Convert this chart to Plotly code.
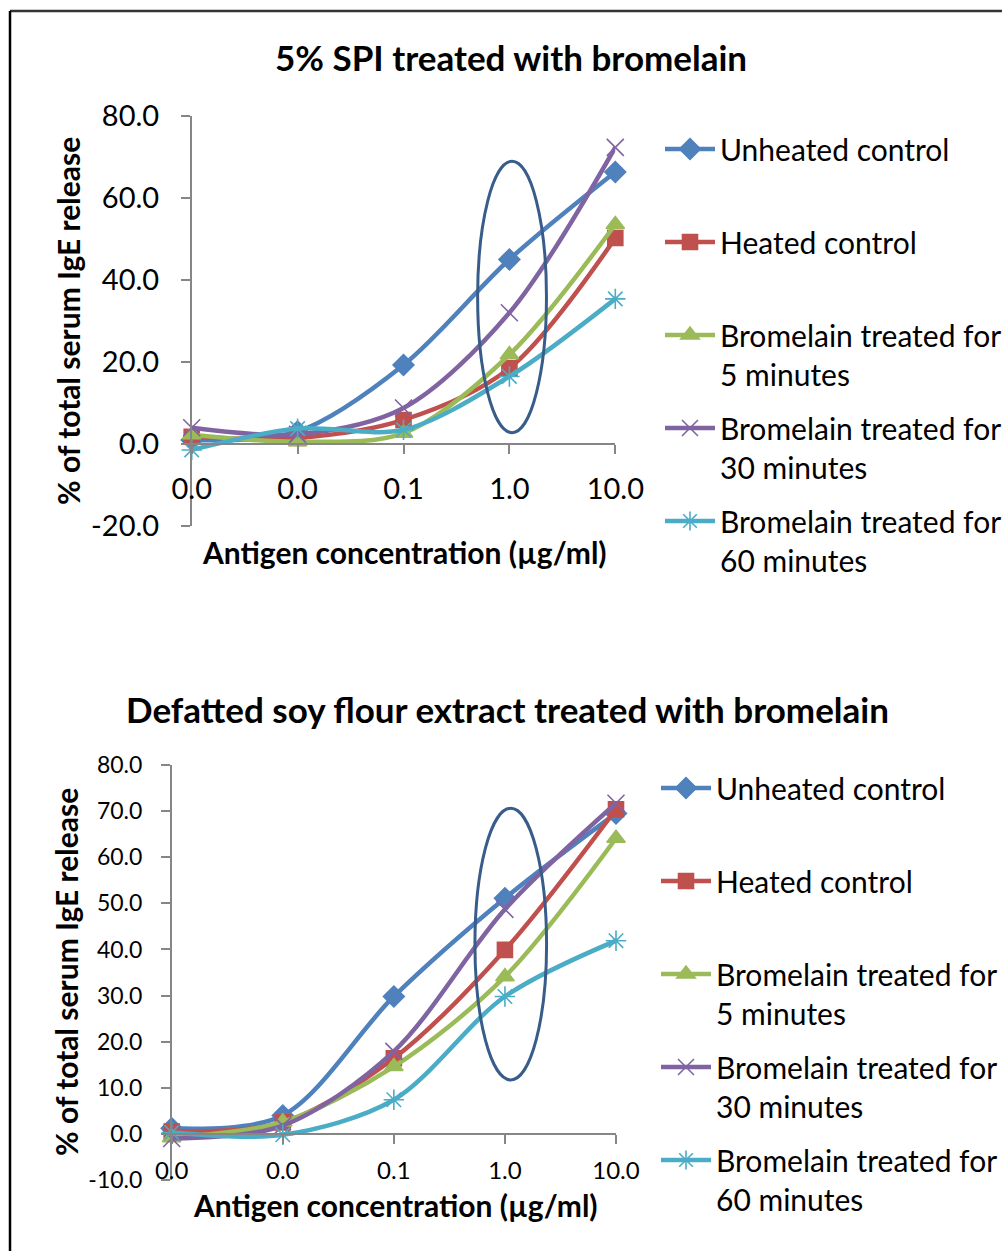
import plotly.graph_objects as go

# Antigen concentration categories (µg/ml, log-spaced) and their printed labels
concentration_pos = [0, 1, 2, 3, 4]
concentration_labels = ["0.0", "0.0", "0.1", "1.0", "10.0"]

# Value-axis ticks for each panel
spi_yticks = [-20, 0, 20, 40, 60, 80]
dsf_yticks = [-10, 0, 10, 20, 30, 40, 50, 60, 70, 80]

series_names = [
    "Unheated control",
    "Heated control",
    "Bromelain treated for<br>5 minutes",
    "Bromelain treated for<br>30 minutes",
    "Bromelain treated for<br>60 minutes",
]

# % of total serum IgE release — 5% SPI
spi_unheated = [1.0, 3.1, 19.3, 45.0, 66.3]
spi_heated = [1.8, 1.5, 5.9, 18.5, 50.2]
spi_brom5 = [2.3, 0.6, 2.7, 21.8, 53.5]
spi_brom30 = [4.0, 2.4, 8.8, 32.0, 72.3]
spi_brom60 = [-1.4, 3.8, 3.5, 16.5, 35.4]

# % of total serum IgE release — defatted soy flour extract
dsf_unheated = [1.2, 4.0, 29.8, 51.1, 69.5]
dsf_heated = [0.5, 2.5, 16.4, 39.9, 70.4]
dsf_brom5 = [-0.8, 2.6, 14.6, 34.1, 64.1]
dsf_brom30 = [-1.0, 1.8, 17.9, 48.7, 71.7]
dsf_brom60 = [0.3, -0.2, 7.4, 29.8, 41.9]

colors = ["#4F81BD", "#C0504D", "#9BBB59", "#8064A2", "#4BACC6"]
symbols = ["diamond", "square", "triangle-up", "x-thin-open", "asterisk-open"]
sizes = [16, 15, 16, 17, 17]

FONT = "Lato"
W, H = 1002, 1251


def py(pix):
    """Convert a pixel row (from top) to paper y."""
    return 1 - pix / H


def px(pix):
    return pix / W


fig = go.Figure()

panels = [
    dict(data=[spi_unheated, spi_heated, spi_brom5, spi_brom30, spi_brom60],
         xa="x", ya="y", legend="legend", grp="a"),
    dict(data=[dsf_unheated, dsf_heated, dsf_brom5, dsf_brom30, dsf_brom60],
         xa="x2", ya="y2", legend="legend2", grp="b"),
]

for p in panels:
    for i, vals in enumerate(p["data"]):
        name = series_names[i]
        if "<br>" not in name:
            name = name + "<br> "
        fig.add_trace(go.Scatter(
            x=concentration_pos, y=vals, name=name,
            xaxis=p["xa"], yaxis=p["ya"], legend=p["legend"],
            legendgroup=f"{p['grp']}{i}",
            mode="lines+markers",
            line=dict(color=colors[i], width=4.5, shape="spline", smoothing=0.9),
            marker=dict(symbol=symbols[i], size=sizes[i], color=colors[i],
                        line=dict(color=colors[i], width=1.6)),
            cliponaxis=False,
        ))

axis_line = "#868686"

# Top panel geometry
top_dom_y = [py(526.3), py(115.7)]
top_dom_x = [px(191.7), px(615.3)]
# Bottom panel geometry
bot_dom_y = [py(1180), py(765)]
bot_dom_x = [px(171.7), px(616)]

common_x = dict(
    tickmode="array", tickvals=concentration_pos, ticktext=concentration_labels,
    range=[0, 4], showgrid=False, zeroline=False, showline=True,
    linecolor=axis_line, linewidth=1.5, ticks="outside", ticklen=9,
    tickcolor=axis_line, tickwidth=1.5, fixedrange=True,
)
common_y = dict(
    showgrid=False, zeroline=False, showline=True, linecolor=axis_line,
    linewidth=1.5, ticks="outside", ticklen=9, tickcolor=axis_line,
    tickwidth=1.5, tickmode="array",
)

fig.update_layout(
    xaxis=dict(common_x, domain=top_dom_x, anchor="free", position=py(444.3),
               tickfont=dict(family=FONT, size=29, color="black"),
               ticklabelstandoff=10),
    yaxis=dict(common_y, domain=top_dom_y, anchor="x", range=[-20, 80],
               tickvals=spi_yticks, ticktext=[f"{v:.1f}" for v in spi_yticks],
               tickfont=dict(family=FONT, size=29, color="black"),
               ticklabelstandoff=16),
    xaxis2=dict(common_x, domain=bot_dom_x, anchor="free", position=py(1134),
                tickfont=dict(family=FONT, size=24, color="black"),
                ticklabelstandoff=6),
    yaxis2=dict(common_y, domain=bot_dom_y, anchor="x2", range=[-10, 80],
                tickvals=dsf_yticks, ticktext=[f"{v:.1f}" for v in dsf_yticks],
                tickfont=dict(family=FONT, size=23, color="black"),
                ticklabelstandoff=14),
)

legend_common = dict(
    font=dict(family=FONT, size=30, color="black"),
    valign="top", tracegroupgap=12, bgcolor="rgba(0,0,0,0)",
    xanchor="left", yanchor="top", itemwidth=50,
)
fig.update_layout(
    legend=dict(legend_common, x=px(660), y=py(123)),
    legend2=dict(legend_common, x=px(656), y=py(762)),
)

# Ellipses highlighting the 1.0 µg/ml concentration
ellipse_color = "#385D8A"
fig.add_shape(type="circle", xref="x", yref="y", x0=2.70, x1=3.35, y0=2.8, y1=68.9,
              line=dict(color=ellipse_color, width=3))
fig.add_shape(type="circle", xref="x2", yref="y2", x0=2.73, x1=3.375, y0=11.7, y1=70.6,
              line=dict(color=ellipse_color, width=3))

# Outer frame (top and left edges)
fig.add_shape(type="line", xref="paper", yref="paper", x0=px(10), x1=1,
              y0=py(11), y1=py(11), line=dict(color="#333333", width=2.5))
fig.add_shape(type="line", xref="paper", yref="paper", x0=px(10), x1=px(10),
              y0=py(11), y1=0, line=dict(color="black", width=2.5))

bold = dict(family=FONT, size=35, color="black", weight="bold")
axt = dict(family=FONT, size=30, color="black", weight="bold")

annotations = [
    dict(text="5% SPI treated with bromelain", x=px(511), y=py(57), font=bold),
    dict(text="Defatted soy flour extract treated with bromelain", x=px(507), y=py(709),
         font=bold),
    dict(text="Antigen concentration (µg/ml)", x=px(404), y=py(552), font=axt),
    dict(text="Antigen concentration (µg/ml)", x=px(395), y=py(1205), font=axt),
    dict(text="% of total serum IgE release", x=px(68), y=py(321), font=axt,
         textangle=-90),
    dict(text="% of total serum IgE release", x=px(66), y=py(972), font=axt,
         textangle=-90),
]
for a in annotations:
    fig.add_annotation(xref="paper", yref="paper", showarrow=False,
                       xanchor="center", yanchor="middle", **a)

fig.update_layout(
    width=W, height=H, margin=dict(l=0, r=0, t=0, b=0, autoexpand=False),
    paper_bgcolor="white", plot_bgcolor="rgba(0,0,0,0)",
    showlegend=True,
)

fig.write_html("out.html")
